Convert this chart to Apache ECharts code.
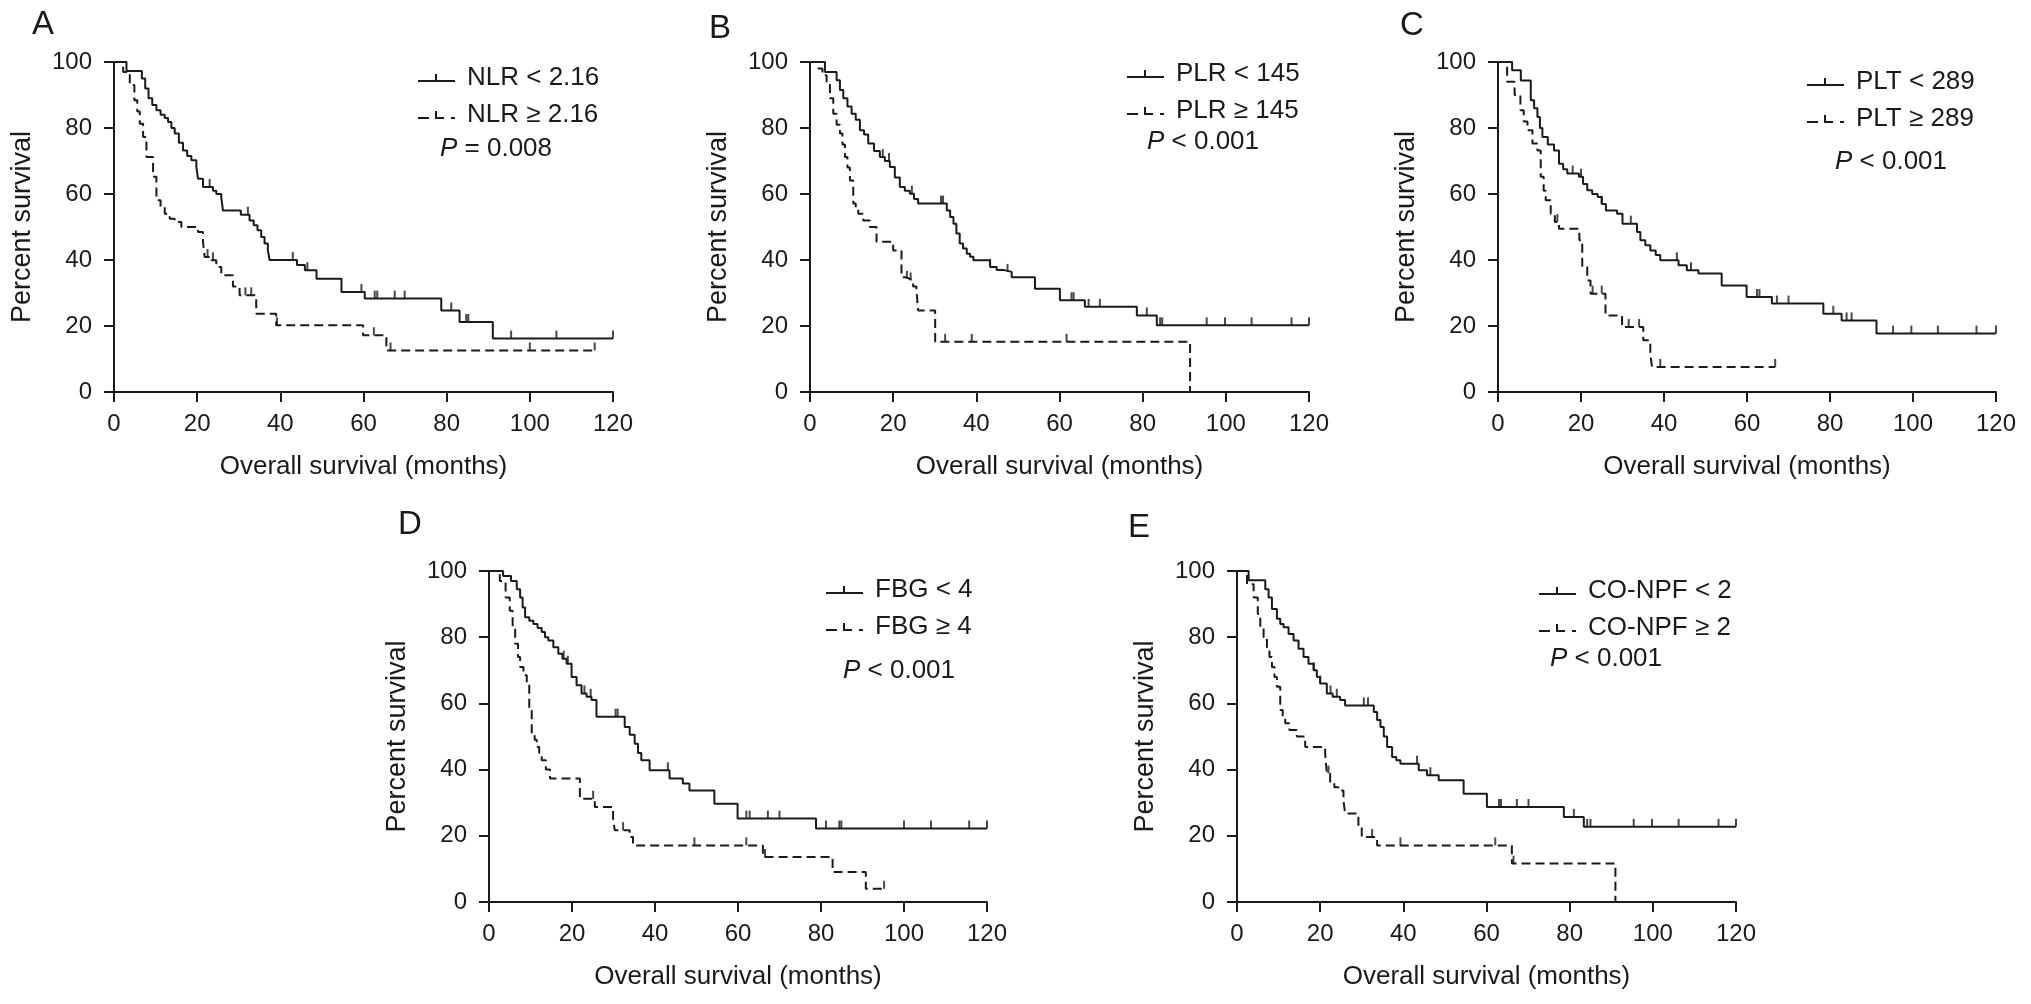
<!DOCTYPE html>
<html><head><meta charset="utf-8">
<script src="https://cdn.jsdelivr.net/npm/echarts@6/dist/echarts.min.js"></script>
<style>html,body{margin:0;padding:0;background:#fff}#c{width:2031px;height:1004px}</style>
</head><body><div id="c"></div>
<script>
// ---------- DATA (months, percent survival) ----------
// Panel A: NLR
const aNames = ['NLR < 2.16', 'NLR \u2265 2.16'];
const aP = '= 0.008';
const aLoT = [0, 3, 6.7, 7.5, 8.3, 9.2, 10.2, 11.2, 12.2, 13, 13.8, 14.6, 15.6, 16.6, 17.6, 18.6, 19.8, 20.2, 21.4, 23.8, 24.6, 25.8, 26.2, 30.5, 32.6, 33.6, 34.5, 35.4, 36.2, 37, 37.4, 44, 45.9, 48.7, 54.7, 60.3, 78.7, 83.1, 91.1, 120];
const aLoS = [100, 97.3, 95, 92, 89, 87, 85.4, 84, 83, 81.8, 80, 78.3, 75.5, 73.2, 71.5, 70.2, 68.2, 64.6, 62.1, 61, 60, 59, 55, 53.7, 52, 50.5, 49, 47, 45, 43, 40, 38.5, 36.9, 34.3, 30.3, 28.3, 24.7, 21.2, 16.2, 16.2];
const aLoC = [23, 32.2, 43, 46.5, 59.5, 62.7, 63.3, 67.5, 69.9, 81.1, 84.7, 85.2, 95.5, 106.4, 120];
const aHiT = [0, 2.2, 3.8, 4.9, 5.6, 6.2, 7, 7.8, 9.4, 10.2, 11.2, 12.2, 13.4, 14.6, 16.2, 20.2, 21.4, 21.8, 23.4, 24.6, 25.8, 28.6, 30.2, 34.2, 39, 59.9, 65.5, 115.6];
const aHiS = [100, 97, 93, 88.4, 85, 81.3, 77.3, 71.2, 65.2, 58.1, 56, 54, 52.5, 51.5, 50, 48.5, 45.5, 40.9, 39.9, 37.9, 35.4, 32, 29.3, 23.7, 20.2, 17.2, 12.6, 12.6];
const aHiC = [22.5, 23.8, 31.6, 33, 39.2, 62.5, 66.5, 100, 115.6];

// Panel B: PLR
const bNames = ['PLR < 145', 'PLR \u2265 145'];
const bP = '< 0.001';
const bLoT = [0, 3.6, 6.4, 7.2, 8, 9, 10, 11, 12, 13, 14, 15.4, 16.8, 18, 19.2, 20.4, 21.6, 22.8, 24, 25, 26, 32.9, 33.7, 34.5, 35.2, 36, 36.8, 37.7, 38.5, 39.3, 43.3, 44.9, 46.5, 48.5, 54.1, 60.1, 66.1, 78.6, 83.4, 120];
const bLoS = [100, 97, 94.5, 91.5, 89, 86.5, 84.3, 82.5, 79.3, 78, 75.3, 73, 71.2, 70, 68.2, 65, 62.1, 61, 60.1, 58.5, 57.1, 55, 53, 51, 48, 45, 43.5, 41.9, 41, 39.9, 37.9, 37, 36.4, 34.8, 31.3, 27.8, 25.8, 23.2, 20.2, 20.2];
const bLoC = [17.5, 19, 24.5, 31.5, 32, 43.3, 47.5, 62.9, 63.4, 67, 69.7, 81, 84.2, 84.7, 95.4, 99.8, 106.2, 115.8, 120];
const bHiT = [0, 2, 3, 4, 4.8, 5.6, 6.4, 7.2, 7.8, 8.4, 9, 9.6, 10.4, 11, 11.6, 12.8, 14.4, 16, 20, 22, 23, 24, 24.8, 25.6, 26, 30.1, 91.4];
const bHiS = [100, 98, 96, 93.4, 89, 84.3, 81, 78.3, 75, 71.2, 68, 64.1, 57.1, 55.5, 54, 52, 50, 45.5, 42.9, 34.8, 34.3, 33.8, 32, 30.8, 24.7, 15.2, 0];
const bHiC = [23.3, 24.2, 32.5, 38.9, 61.7];

// Panel C: PLT
const cNames = ['PLT < 289', 'PLT \u2265 289'];
const cP = '< 0.001';
const cLoT = [0, 3.4, 5.5, 7.9, 8.7, 9.5, 10.1, 10.7, 12, 13.5, 14.7, 15.7, 16.7, 19.5, 20.5, 21.5, 22.7, 24, 25, 26, 28.7, 30, 33.5, 34.3, 35.5, 36.7, 38, 39.1, 43.5, 45.5, 48.3, 53.9, 59.9, 66, 78.4, 82.8, 91.2, 120];
const cLoS = [100, 97.5, 94.4, 88.4, 86, 83.3, 80, 77.3, 75, 73.2, 69.2, 67.5, 66.2, 65.2, 63, 61.1, 60, 59.1, 57, 55, 54, 51, 48.5, 46, 44.5, 42.9, 41.5, 39.9, 38.4, 36.9, 35.9, 32.3, 28.8, 26.8, 23.7, 21.7, 17.7, 17.7];
const cLoC = [18, 20, 25, 32, 43.1, 46.5, 62.4, 63, 67.2, 70, 80.8, 84, 85.2, 95.2, 99.6, 106, 115.3, 120];
const cHiT = [0, 2.2, 4, 5.4, 6.2, 7.1, 8.3, 9.5, 10.3, 11, 11.5, 12.7, 13.7, 14.7, 19.6, 20.3, 21.5, 22.3, 25.9, 29.9, 35, 36.7, 37.1, 66.8];
const cHiS = [100, 94, 90, 85.4, 82, 79.3, 75.3, 73.2, 65.2, 61, 58.1, 54, 51.5, 49.5, 46, 37.9, 33.8, 29.8, 23.2, 19.7, 15.7, 11.6, 7.6, 7.6];
const cHiC = [14.3, 22.8, 25, 31.5, 34, 39.1, 66.8];

// Panel D: FBG
const dNames = ['FBG < 4', 'FBG \u2265 4'];
const dP = '< 0.001';
const dLoT = [0, 3.4, 5.3, 6.7, 7.5, 8.1, 8.7, 9.7, 10.7, 11.7, 12.7, 13.5, 14.3, 15.5, 16.7, 17.7, 18.7, 19.9, 21.1, 22.3, 23.5, 24.7, 25.9, 32.7, 33.9, 35.1, 35.9, 36.7, 38.7, 43.5, 46.7, 48.3, 54.3, 59.9, 78.8, 120];
const dLoS = [100, 98.5, 97, 94.5, 92, 89, 86, 85, 84, 82.8, 81.6, 80, 79, 77, 75, 73.5, 72, 68, 65.5, 63, 62, 61, 56, 52.9, 50.5, 47.8, 45, 42.8, 39.8, 37.3, 35.8, 33.7, 29.7, 25.2, 22.2, 22.2];
const dLoC = [18, 19, 23, 24.5, 30.5, 31, 43.1, 62, 62.8, 67.2, 70, 81.2, 84.4, 84.9, 100, 106.5, 115.7, 120];
const dHiT = [0, 2.6, 4, 5, 5.7, 6.3, 7, 7.5, 8.3, 9.1, 9.7, 10.3, 11, 11.5, 12.1, 12.7, 13.7, 14.7, 21.9, 25.5, 29.9, 30.3, 33.9, 34.7, 66, 82.8, 90.8, 95.2];
const dHiS = [100, 97, 92, 88, 83, 78, 74, 71, 68.5, 66, 58, 50.9, 49, 46.8, 45, 42.8, 40, 37.3, 31.2, 28.7, 25.2, 21.7, 19.6, 17.1, 13.6, 9.1, 4, 4];
const dHiC = [25.1, 32.3, 49.5, 62, 66.5, 95.2];

// Panel E: CO-NPF
const eNames = ['CO-NPF < 2', 'CO-NPF \u2265 2'];
const eP = '< 0.001';
const eLoT = [0, 2.8, 6.8, 7.6, 8.4, 9.6, 10.4, 11.2, 12.4, 13.6, 14.8, 16, 17.2, 18.4, 19.2, 20, 21.6, 23, 24.8, 26, 32.9, 33.7, 34.5, 35.3, 36.1, 37.3, 38.3, 39.3, 43.7, 45.7, 48.5, 54.5, 60.1, 78.6, 83.4, 120];
const eLoS = [100, 97.2, 94.5, 92, 88.5, 85.6, 84, 83, 81, 79, 76.5, 74, 72, 70, 68, 66, 63, 62, 61, 59.4, 57.4, 55, 52.9, 50, 46.8, 43.8, 42.8, 41.8, 39.8, 38.3, 36.8, 32.7, 28.7, 25.7, 22.7, 22.7];
const eLoC = [18.5, 20, 22.5, 24, 30.5, 31.5, 43.3, 46.5, 63, 63.5, 67.3, 70.1, 81, 84.2, 85, 95.4, 99.8, 106.2, 115.8, 120];
const eHiT = [0, 2.4, 4, 5, 5.6, 6.4, 7.2, 7.8, 8.4, 9, 9.6, 10.4, 11, 11.6, 12.6, 14.4, 16.4, 21.2, 21.6, 22.4, 23.4, 24.4, 25.6, 26, 29.2, 30, 33.7, 66.1, 91];
const eHiS = [100, 96, 92, 87, 83, 80, 77, 74, 71, 68, 65, 58, 56, 54, 52, 50, 46.8, 44.8, 38.8, 35.7, 34.7, 33.7, 30.7, 26.7, 22.7, 19.6, 17.1, 11.6, 0];
const eHiC = [22, 32.5, 39.3, 62.1, 66.5];

const xTicks = [0, 20, 40, 60, 80, 100, 120];
const yTicks = [0, 20, 40, 60, 80, 100];
const xTitle = 'Overall survival (months)';
const yTitle = 'Percent survival';

// ---------- LAYOUT ----------
const FONT = '"Liberation Sans", Arial, Helvetica, sans-serif';
const INK = '#1a1a1a';
const panels = [
  {letter: 'A', names: aNames, p: aP, loT: aLoT, loS: aLoS, loC: aLoC, hiT: aHiT, hiS: aHiS, hiC: aHiC,
   grid: {left: 114, top: 62, width: 499, height: 330}, letterXY: [44, 26], legXY: [418, 79], pXY: [440, 150]},
  {letter: 'B', names: bNames, p: bP, loT: bLoT, loS: bLoS, loC: bLoC, hiT: bHiT, hiS: bHiS, hiC: bHiC,
   grid: {left: 810, top: 62, width: 499, height: 330}, letterXY: [721, 30], legXY: [1127, 75], pXY: [1147, 143]},
  {letter: 'C', names: cNames, p: cP, loT: cLoT, loS: cLoS, loC: cLoC, hiT: cHiT, hiS: cHiS, hiC: cHiC,
   grid: {left: 1498, top: 62, width: 498, height: 330}, letterXY: [1412, 27], legXY: [1807, 83], pXY: [1835, 163]},
  {letter: 'D', names: dNames, p: dP, loT: dLoT, loS: dLoS, loC: dLoC, hiT: dHiT, hiS: dHiS, hiC: dHiC,
   grid: {left: 489, top: 571, width: 498, height: 331}, letterXY: [410, 526], legXY: [826, 591], pXY: [843, 672]},
  {letter: 'E', names: eNames, p: eP, loT: eLoT, loS: eLoS, loC: eLoC, hiT: eHiT, hiS: eHiS, hiC: eHiC,
   grid: {left: 1237, top: 571, width: 499, height: 331}, letterXY: [1140, 529], legXY: [1539, 592], pXY: [1550, 660]}
];

function pairs(T, S) { return T.map((t, i) => [t, S[i]]); }
function survAt(T, S, t) {
  let v = S[0];
  for (let i = 0; i < T.length; i++) { if (T[i] <= t) v = S[i]; else break; }
  return v;
}
const solidIcon = 'path://M0,10h37v2H0z M17,4h2v8h-2z';
const dashIcon = 'path://M0,10h11v2H0z M17,4h2v8h-2z M17,10h9v2h-9z M33,10h4v2h-4z';

const grids = [], xAxes = [], yAxes = [], series = [], legends = [], graphics = [];
panels.forEach((p, i) => {
  grids.push(Object.assign({}, p.grid));
  xAxes.push({
    gridIndex: i, type: 'value', min: 0, max: 120, interval: 20,
    name: xTitle, nameLocation: 'middle', nameGap: 62,
    nameTextStyle: {fontSize: 26, color: INK, fontFamily: FONT},
    axisLine: {lineStyle: {color: INK, width: 2}},
    axisTick: {length: 10, lineStyle: {color: INK, width: 2}},
    axisLabel: {fontSize: 24, color: INK, fontFamily: FONT, margin: 20,
      formatter: v => xTicks.includes(v) ? String(v) : ''},
    splitLine: {show: false}
  });
  yAxes.push({
    gridIndex: i, type: 'value', min: 0, max: 100, interval: 20,
    name: yTitle, nameLocation: 'middle', nameGap: 78,
    nameTextStyle: {fontSize: 27, color: INK, fontFamily: FONT},
    axisLine: {show: true, lineStyle: {color: INK, width: 2}},
    axisTick: {show: true, length: 10, lineStyle: {color: INK, width: 2}},
    axisLabel: {fontSize: 24, color: INK, fontFamily: FONT, margin: 22,
      formatter: v => yTicks.includes(v) ? String(v) : ''},
    splitLine: {show: false}
  });
  series.push({
    name: p.names[0], type: 'line', xAxisIndex: i, yAxisIndex: i, step: 'end',
    showSymbol: false, symbol: 'none', color: INK,
    lineStyle: {color: INK, width: 2, type: 'solid'},
    data: pairs(p.loT, p.loS), z: 3
  });
  series.push({
    name: p.names[1], type: 'line', xAxisIndex: i, yAxisIndex: i, step: 'end',
    showSymbol: false, symbol: 'none', color: INK,
    lineStyle: {color: INK, width: 2, type: [9, 5]},
    data: pairs(p.hiT, p.hiS), z: 3
  });
  series.push({
    name: p.letter + ' censored lo', type: 'scatter', xAxisIndex: i, yAxisIndex: i,
    symbol: 'rect', symbolSize: [2, 8], symbolOffset: [0, -4],
    itemStyle: {color: INK}, z: 4,
    data: p.loC.map(t => [t, survAt(p.loT, p.loS, t)])
  });
  series.push({
    name: p.letter + ' censored hi', type: 'scatter', xAxisIndex: i, yAxisIndex: i,
    symbol: 'rect', symbolSize: [2, 8], symbolOffset: [0, -4],
    itemStyle: {color: INK}, z: 4,
    data: p.hiC.map(t => [t, survAt(p.hiT, p.hiS, t)])
  });
  legends.push({
    orient: 'vertical', left: p.legXY[0], top: p.legXY[1] - 14, padding: 0,
    itemGap: 11, itemWidth: 37, itemHeight: 8, selectedMode: false,
    textStyle: {fontSize: 26, color: INK, fontFamily: FONT, padding: [0, 0, 0, 7]},
    data: [{name: p.names[0], icon: solidIcon}, {name: p.names[1], icon: dashIcon}]
  });
  graphics.push({
    type: 'text', left: p.letterXY[0] - 12, top: p.letterXY[1] - 18,
    style: {text: p.letter, fontSize: 33, fontFamily: FONT, fill: INK}
  });
  graphics.push({
    type: 'text', left: p.pXY[0], top: p.pXY[1] - 14,
    style: {
      text: '{i|P} ' + p.p, fontSize: 26, fontFamily: FONT, fill: INK,
      rich: {i: {fontStyle: 'italic', fontSize: 26, fontFamily: FONT, fill: INK}}
    }
  });
});

const chart = echarts.init(document.getElementById('c'));
chart.setOption({
  animation: false,
  backgroundColor: '#ffffff',
  grid: grids, xAxis: xAxes, yAxis: yAxes,
  legend: legends, series: series, graphic: graphics
});
</script>
</body></html>
